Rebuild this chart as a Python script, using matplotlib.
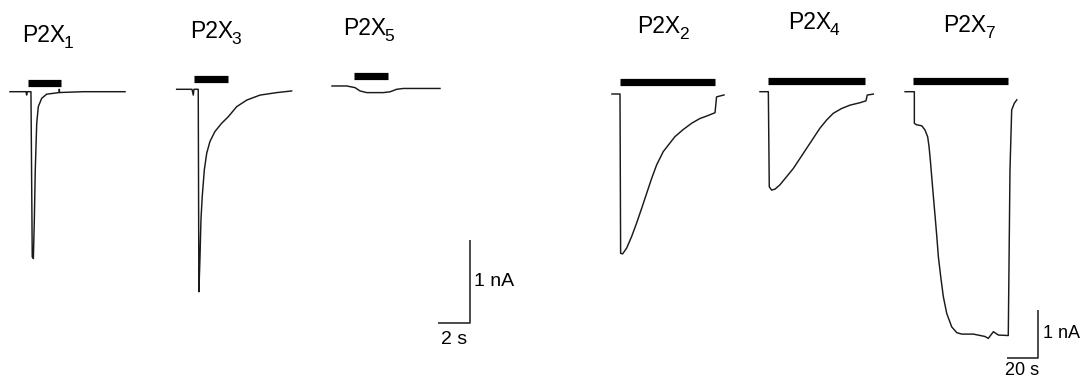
import matplotlib
matplotlib.use("Agg")
import matplotlib.pyplot as plt

plt.rcParams['font.family'] = ['Liberation Sans', 'DejaVu Sans']

# --- current traces, time (s) from trace start, current (nA) from holding level ---
# fast-desensitizing group (2 s / 1 nA scale)
p2x1_t = [0, 1.0, 1.04, 1.08, 1.31, 1.39, 1.46, 1.52, 1.58, 1.67, 1.77, 1.98, 2.29, 3.08, 3.08, 3.10, 4.58, 7.19]
p2x1_i = [0, 0, -0.04, 0, 0, -1.99, -2.01, -1.55, -0.94, -0.38, -0.18, -0.08, -0.03, -0.01, 0.03, -0.01, 0, 0]
p2x1_drug = (1.11, 3.19)

p2x3_t = [0, 0.96, 1.04, 1.08, 1.35, 1.39, 1.46, 1.52, 1.60, 1.73, 1.88, 2.08, 2.39, 2.81, 3.23, 3.75,
          4.38, 5.21, 6.25, 7.19]
p2x3_i = [0, 0, -0.07, 0, 0, -2.44, -2.02, -1.57, -1.29, -0.97, -0.77, -0.63, -0.51, -0.41, -0.33, -0.21,
          -0.13, -0.07, -0.04, -0.02]
p2x3_drug = (1.08, 3.23)

p2x5_t = [0, 0.92, 1.44, 1.75, 2.17, 3.21, 3.63, 4.04, 4.46, 5.19, 6.75]
p2x5_i = [0, 0, -0.02, -0.06, -0.08, -0.08, -0.07, -0.04, -0.03, -0.03, -0.03]
p2x5_drug = (1.375, 3.5)

# slow group (20 s / 1 nA scale)
p2x2_t = [0, 5.2, 5.6, 6.9, 9.5, 12.7, 15.9, 19.2, 22.4, 25.6, 28.8, 33.1, 40.6, 46.0, 51.4, 56.8,
          61.1, 66.5, 67.5, 72.3]
p2x2_i = [0, 0, -3.32, -3.33, -3.21, -2.97, -2.69, -2.38, -2.07, -1.76, -1.48, -1.20, -0.89, -0.74, -0.61, -0.51,
          -0.46, -0.39, -0.06, -0.02]
p2x2_drug = (5.2, 66.5)

p2x4_t = [0, 5.4, 6.0, 7.5, 9.7, 12.9, 17.2, 21.5, 25.8, 30.1, 34.4, 38.7, 43.0, 47.3, 52.7, 58.1,
          64.5, 68.4, 69.2, 73.1]
p2x4_i = [0, 0, -1.98, -2.05, -2.03, -1.94, -1.77, -1.60, -1.39, -1.18, -0.97, -0.76, -0.59, -0.45, -0.35, -0.28,
          -0.23, -0.19, -0.07, -0.05]
p2x4_drug = (5.4, 67.7)

p2x7_t = [0, 6.0, 6.0, 7.5, 10.8, 12.9, 14.6, 15.5, 16.3, 17.2, 18.3, 19.4, 20.5, 21.5, 23.0, 24.7,
          26.9, 30.1, 33.4, 36.6, 44.1, 51.6, 53.7, 57.0, 60.2, 66.6, 67.7, 68.8, 70.5, 72.1]
p2x7_i = [0, 0, -0.66, -0.69, -0.71, -0.80, -0.94, -1.15, -1.42, -1.77, -2.19, -2.60, -3.02, -3.44, -3.85, -4.27,
          -4.62, -4.90, -5.02, -5.05, -5.05, -5.10, -5.14, -5.00, -5.07, -5.08, -1.63, -0.38, -0.24, -0.17]
p2x7_drug = (5.4, 66.6)

W, H = 1081, 381
fig = plt.figure(figsize=(W / 100, H / 100), dpi=100)

# two overlaid axes, one per time scale
ax_fast = fig.add_axes([0, 0, 1, 1])
ax_fast.set_xlim(0, W / 16.0)           # 16 px per s
ax_fast.set_ylim(-(H - 91.7) / 83.0, 91.7 / 83.0)   # 83 px per nA
ax_slow = fig.add_axes([0, 0, 1, 1])
ax_slow.set_xlim(0, W / 1.55)           # 1.55 px per s
ax_slow.set_ylim(-(H - 94) / 48.0, 94 / 48.0)       # 48 px per nA
for ax in (ax_fast, ax_slow):
    ax.axis('off')
    ax.patch.set_alpha(0)

trace_kw = dict(color='#1a1a1a', lw=1.05, solid_joinstyle='round')
bar_kw = dict(color='black', lw=5.2, solid_capstyle='butt')


def draw_trace(ax, t, i, drug, t0, base, gap):
    ax.plot([t0 + v for v in t], [base + v for v in i], **trace_kw)
    ax.plot([t0 + drug[0], t0 + drug[1]], [base + gap, base + gap], **bar_kw)


draw_trace(ax_fast, p2x1_t, p2x1_i, p2x1_drug, 0.625, 0.0, 0.11)
draw_trace(ax_fast, p2x3_t, p2x3_i, p2x3_drug, 11.04, 0.029, 0.125)
draw_trace(ax_fast, p2x5_t, p2x5_i, p2x5_drug, 20.75, 0.069, 0.12)

draw_trace(ax_slow, p2x2_t, p2x2_i, p2x2_drug, 394.8, 0.0, 0.25)
draw_trace(ax_slow, p2x4_t, p2x4_i, p2x4_drug, 490.3, 0.048, 0.23)
draw_trace(ax_slow, p2x7_t, p2x7_i, p2x7_drug, 583.9, 0.048, 0.23)

# scale bars
sb_kw = dict(color='#1a1a1a', lw=1.1, solid_capstyle='butt')
cx, cy = 29.375, -2.787
ax_fast.plot([cx - 2, cx, cx], [cy, cy, cy + 1], **sb_kw)
ax_fast.text(cx + 0.25, cy + 0.5, '1 nA', fontsize=14, ha='left', va='center')
ax_fast.text(cx - 1.0, cy - 0.1, '2 s', fontsize=14, ha='center', va='top')

cx, cy = 669.7, -5.5
ax_slow.plot([cx - 20, cx, cx], [cy, cy, cy + 1], **sb_kw)
ax_slow.text(cx + 3, cy + 0.5, '1 nA', fontsize=13, ha='left', va='center')
ax_slow.text(cx - 10, cy - 0.08, '20 s', fontsize=13, ha='center', va='top')

# receptor labels: "P2X" with a lowered subscript
labels = ['1', '3', '5', '2', '4', '7']
label_x = [22, 190, 343, 637, 788, 943]
label_y = [42, 38, 35, 33, 29, 32]
renderer = fig.canvas.get_renderer()
for sub, lx, ly in zip(labels, label_x, label_y):
    main = fig.text(lx / W, 1 - ly / H, 'P2X', fontsize=16.5, ha='left', va='baseline')
    bb = main.get_window_extent(renderer=renderer)
    fig.text((bb.x1 - 1.5) / W, 1 - (ly + 6) / H, sub, fontsize=12.5, ha='left', va='baseline')

fig.savefig('out.png', dpi=100, facecolor='white')
